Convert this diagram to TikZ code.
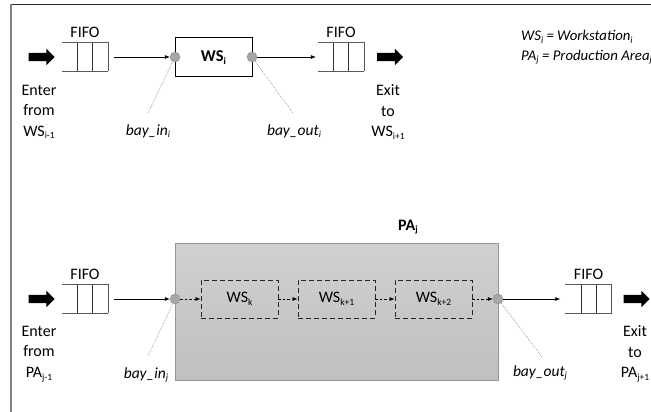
\documentclass[tikz,border=0pt]{standalone}
\usepackage{fontspec}
\setmainfont{Carlito}
\usetikzlibrary{shapes.arrows,arrows.meta}
\definecolor{circfill}{RGB}{166,166,166}
\definecolor{circdraw}{RGB}{140,140,140}
\definecolor{patop}{RGB}{208,208,208}
\definecolor{pabot}{RGB}{192,192,192}
\definecolor{paedge}{RGB}{150,150,150}
\definecolor{qline}{RGB}{90,90,90}
\newcommand{\sbs}[1]{\raisebox{-0.35ex}{\fontsize{9.5}{9.5}\selectfont #1}}
\tikzset{
  txt/.style={font=\fontsize{16}{20.5}\selectfont, inner sep=0pt, align=center},
  itx/.style={font=\fontsize{15.5}{18}\selectfont\itshape, inner sep=0pt},
  leg/.style={font=\fontsize{14.8}{18}\selectfont\itshape, inner sep=0pt, anchor=west},
  bigarrow/.style={single arrow, fill=black, draw=none, minimum height=26pt, inner xsep=0pt, inner ysep=4pt, single arrow head extend=4pt, single arrow tip angle=90, shape border rotate=0},
  qbox/.style={draw=none, minimum width=46pt, minimum height=28pt, inner sep=0pt},
  bay/.style={circle, fill=circfill, draw=circdraw, minimum size=10pt, inner sep=0pt},
  flow/.style={-{Latex[length=5pt,width=4pt]}, line width=0.6pt},
  dflow/.style={-{Latex[length=5pt,width=4pt]}, line width=0.6pt, dash pattern=on 2.5pt off 2pt},
  lead/.style={draw=gray, line width=0.5pt, dash pattern=on 0.8pt off 1pt},
  wsbox/.style={draw=black, line width=1pt, fill=white, minimum width=77pt, minimum height=39pt, inner sep=0pt, font=\fontsize{16.5}{18}\selectfont\bfseries},
  wsd/.style={draw=black!85, line width=0.9pt, dash pattern=on 5pt off 3pt, minimum width=77pt, minimum height=38pt, inner sep=0pt, font=\fontsize{16}{18}\selectfont},
}
\newcommand{\queue}[1]{%
  \draw[qline, line width=1.1pt] (#1.north west) -- (#1.north east) -- (#1.south east);
  \draw[qline, line width=1.1pt] (#1.south west) -- (#1.south east);
  \draw[black!80, line width=0.8pt] ([xshift=16pt]#1.north west) -- ([xshift=16pt]#1.south west);
  \draw[black!80, line width=0.8pt] ([xshift=31pt]#1.north west) -- ([xshift=31pt]#1.south west);
}
\begin{document}
\begin{tikzpicture}[x=1pt,y=-1pt]
\useasboundingbox (0,0) rectangle (651,412);
% frame
\draw[black!85, line width=0.8pt] (11,4) -- (651,4);
\draw[gray, line width=1.2pt] (11,4) -- (11,412);

% ---------- top row ----------
\node[bigarrow] (a1) at (39.5,57) {};
\node[qbox] (q1) at (85,57) {};
\queue{q1}
\node[txt] (f1) at (85,32) {FIFO};
\node[wsbox] (ws) at (213.5,57.5) {WS\sbs{i}};
\node[bay] (bi) at (175,57) {};
\node[bay] (bo) at (252,57) {};
\node[qbox] (q2) at (341,57) {};
\queue{q2}
\node[txt] (f2) at (341,32) {FIFO};
\node[bigarrow] (a2) at (388,57) {};
\draw[flow] ([xshift=6pt]q1.east) -- (bi);
\draw[flow] (bo) -- ([xshift=-2pt]q2.west);
\node[txt] (en1) at (39,112) {Enter\\from\\WS\sbs{i-1}};
\node[txt] (ex1) at (388,112) {Exit\\to\\WS\sbs{i+1}};
\coordinate (c1) at (148,113);
\coordinate (c2) at (293,113);
\draw[lead] (bi) -- (c1);
\draw[lead] (bo) -- (c2);
\node[itx] (l1) at (148,131) {bay\_in\sbs{i}};
\node[itx] (l2) at (294,131) {bay\_out\sbs{i}};

% legend
\node[leg] (g1) at (521,37) {WS\sbs{i} = Workstation\sbs{i}};
\node[leg] (g2) at (521,57) {PA\sbs{j} = Production Area\sbs{j}};

% ---------- bottom row ----------
\node[draw=paedge, line width=0.8pt, top color=patop, bottom color=pabot, minimum width=323pt, minimum height=137pt, inner sep=0pt] (pa) at (336.5,311.5) {};
\node[txt, font=\fontsize{16}{18}\selectfont\bfseries] (pal) at (408,227) {PA\sbs{j}};
\node[bigarrow] (a3) at (39.5,299) {};
\node[qbox] (q3) at (85,299) {};
\queue{q3}
\node[txt] (f3) at (85,274) {FIFO};
\node[bay] (bi2) at (175,299) {};
\node[bay] (bo2) at (498,299) {};
\node[wsd] (k0) at (239.5,299) {WS\sbs{k}};
\node[wsd] (k1) at (336.5,299) {WS\sbs{k+1}};
\node[wsd] (k2) at (433.5,299) {WS\sbs{k+2}};
\node[qbox] (q4) at (588.5,299) {};
\queue{q4}
\node[txt] (f4) at (588.5,274) {FIFO};
\node[bigarrow] (a4) at (634.5,299) {};
\draw[flow] ([xshift=6pt]q3.east) -- (bi2);
\draw[dflow] (bi2) -- (k0.west);
\draw[dflow] (k0.east) -- (k1.west);
\draw[dflow] (k1.east) -- (k2.west);
\draw[dflow] (k2.east) -- (bo2);
\draw[flow] (bo2) -- ([xshift=-5pt]q4.west);
\node[txt] (en2) at (39,354) {Enter\\from\\PA\sbs{j-1}};
\node[txt] (ex2) at (635,354) {Exit\\to\\PA\sbs{j+1}};
\coordinate (c3) at (148,356);
\coordinate (c4) at (542,357);
\draw[lead] (bi2) -- (c3);
\draw[lead] (bo2) -- (c4);
\node[itx] (l3) at (146,375) {bay\_in\sbs{j}};
\node[itx] (l4) at (540,373) {bay\_out\sbs{j}};
\end{tikzpicture}
\end{document}
